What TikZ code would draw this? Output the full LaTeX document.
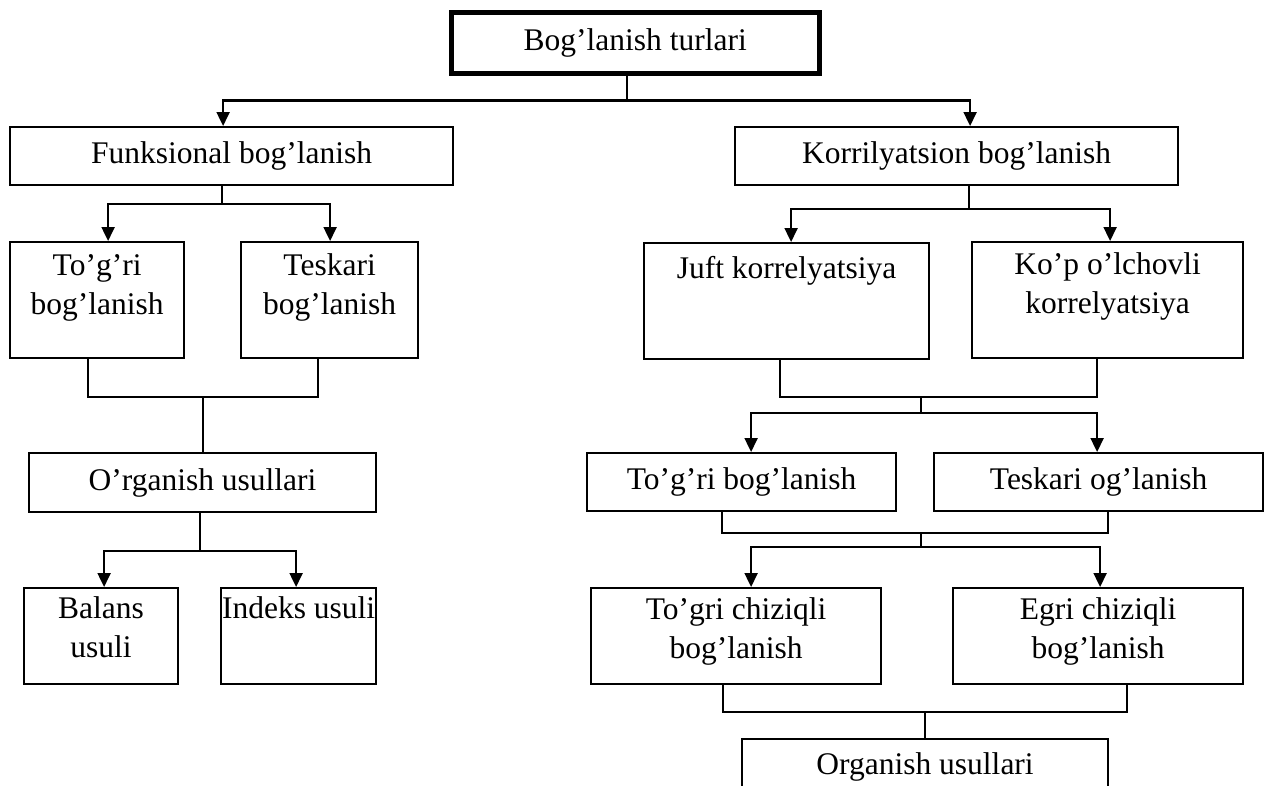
\documentclass[tikz,border=0pt]{standalone}
\usepackage{fontspec}
\setmainfont{Liberation Serif}
\usetikzlibrary{arrows.meta,calc}
\newcommand{\mytopbox}[4]{\parbox[c][#2pt][t]{#1pt}{\centering\rule{0pt}{#3pt}#4}}
\begin{document}
\begin{tikzpicture}[x=1pt,y=-1pt,
  ln/.style={line width=2.2pt},
  arr/.style={line width=2.2pt,-{Triangle[width=13pt,length=14pt]}},
  box/.style={draw,line width=2.2pt,inner sep=0pt,anchor=north west,
    font=\fontsize{31.5}{39}\selectfont},
  sbox/.style={box,align=center},
  thickbox/.style={box,line width=4.5pt}]
\useasboundingbox (0,0) rectangle (1265,785);
\clip (0,0) rectangle (1265,785);
\fill[white] (0,0) rectangle (1265,785);

% nodes
\node[thickbox,minimum width=368pt,minimum height=61pt] (top) at (449,10) {Bog’lanish turlari};
\node[sbox,minimum width=443pt,minimum height=58pt] (fun) at (9,126) {Funksional bog’lanish};
\node[sbox,minimum width=443pt,minimum height=58pt] (kor) at (734,126) {Korrilyatsion bog’lanish};
\node[box] (tog1) at (9,241) {\mytopbox{174}{116}{33}{To’g’ri\\bog’lanish}};
\node[box] (tes1) at (240,241) {\mytopbox{177}{116}{33}{Teskari\\bog’lanish}};
\node[sbox,minimum width=347pt,minimum height=59pt] (org1) at (28,452) {O’rganish usullari};
\node[box] (bal) at (23,587) {\mytopbox{154}{96}{30}{Balans\\usuli}};
\node[box] (ind) at (220,587) {\mytopbox{155}{96}{30}{Indeks usuli}};
\node[box] (juft) at (643,242) {\mytopbox{285}{116}{35}{Juft korrelyatsiya}};
\node[box] (kop) at (971,241) {\mytopbox{271}{116}{32}{Ko’p o’lchovli\\korrelyatsiya}};
\node[sbox,minimum width=309pt,minimum height=58pt] (tog2) at (586,452) {To’g’ri bog’lanish};
\node[sbox,minimum width=329pt,minimum height=58pt] (tes2) at (933,452) {Teskari og’lanish};
\node[box] (tc) at (590,587) {\mytopbox{290}{96}{31}{To’gri chiziqli\\bog’lanish}};
\node[box] (eg) at (952,587) {\mytopbox{290}{96}{31}{Egri chiziqli\\bog’lanish}};
\node[box] (org2) at (741,738) {\mytopbox{366}{80}{35}{Organish usullari}};

% connectors
\draw[ln] ([xshift=-8pt]top.south) -- ++(0,25) coordinate (j1);
\draw[arr] (j1) -| ([xshift=-8.5pt]fun.north);
\draw[arr] (j1) -| ([xshift=13.5pt]kor.north);

\draw[ln] ([xshift=-9.5pt]fun.south) -- ++(0,18) coordinate (j2);
\draw[arr] (j2) -| ([xshift=11pt]tog1.north);
\draw[arr] (j2) -| ([xshift=0.5pt]tes1.north);

\draw[ln] ([xshift=-9pt]tog1.south) -- ++(0,38) coordinate (b1) -| ([xshift=-11.5pt]tes1.south);
\draw[ln] (b1 -| org1.north) -- (org1.north);

\draw[ln] ([xshift=-2.5pt]org1.south) -- ++(0,38) coordinate (j4);
\draw[arr] (j4) -| ([xshift=3pt]bal.north);
\draw[arr] (j4) -| ([xshift=-2.5pt]ind.north);

\draw[ln] ([xshift=12.5pt]kor.south) -- ++(0,23) coordinate (j5);
\draw[arr] (j5) -| ([xshift=4.5pt]juft.north);
\draw[arr] (j5) -| ([xshift=2.5pt]kop.north);

\draw[ln] ([xshift=-6.5pt]juft.south) -- ++(0,37) coordinate (b2) -| ([xshift=-10.5pt]kop.south);
\coordinate (j6) at (921,413);
\draw[ln] (j6 |- b2) -- (j6);
\draw[arr] (j6) -| ([xshift=9.5pt]tog2.north);
\draw[arr] (j6) -| ([xshift=-1.5pt]tes2.north);

\draw[ln] ([xshift=-19.5pt]tog2.south) -- ++(0,21) coordinate (b3) -| ([xshift=9.5pt]tes2.south);
\coordinate (j7) at (921,547);
\draw[ln] (j7 |- b3) -- (j7);
\draw[arr] (j7) -| ([xshift=15pt]tc.north);
\draw[arr] (j7) -| ([xshift=2pt]eg.north);

\draw[ln] ([xshift=-13pt]tc.south) -- ++(0,27) coordinate (b4) -| ([xshift=29pt]eg.south);
\draw[ln] (b4 -| org2.north) -- (org2.north);
\end{tikzpicture}
\end{document}
